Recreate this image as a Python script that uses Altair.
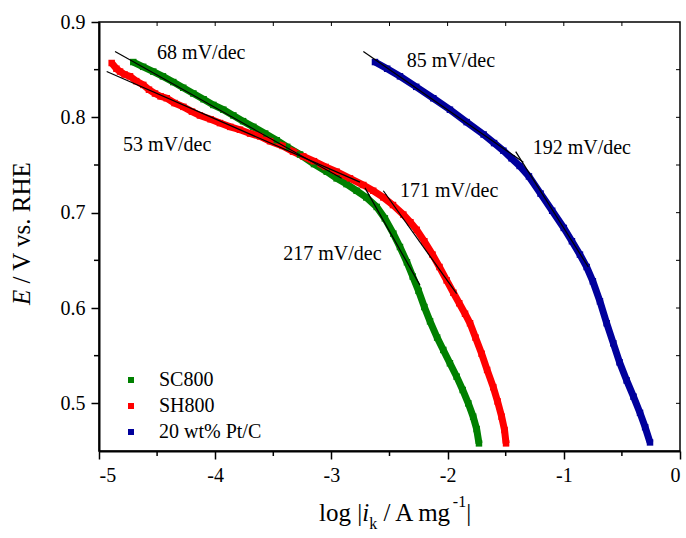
import altair as alt
import pandas as pd

# ---- Tafel data: log|i_k / A mg^-1| versus E / V vs. RHE ----
sc800_logi = [-4.705, -4.62, -4.533, -4.45, -4.361, -4.275, -4.188, -4.10, -4.016, -3.93,
              -3.844, -3.76, -3.672, -3.57, -3.471, -3.38, -3.27, -3.15, -3.04, -2.955,
              -2.87, -2.783, -2.70, -2.61, -2.54, -2.467, -2.41, -2.35, -2.30, -2.25,
              -2.20, -2.151, -2.09, -2.037, -1.98, -1.922, -1.87, -1.822, -1.78, -1.75, -1.73]
sc800_e = [0.858, 0.853, 0.848, 0.843, 0.837, 0.831, 0.825, 0.819, 0.813, 0.808,
           0.802, 0.796, 0.790, 0.783, 0.776, 0.769, 0.761, 0.751, 0.743, 0.736,
           0.730, 0.723, 0.716, 0.706, 0.694, 0.678, 0.664, 0.648, 0.633, 0.618,
           0.601, 0.586, 0.569, 0.556, 0.542, 0.528, 0.514, 0.500, 0.486, 0.473, 0.458]

sh800_logi = [-4.891, -4.85, -4.819, -4.78, -4.733, -4.68, -4.619, -4.57, -4.518, -4.47,
              -4.417, -4.35, -4.274, -4.20, -4.131, -4.04, -3.959, -3.87, -3.787, -3.70,
              -3.614, -3.528, -3.42, -3.33, -3.242, -3.15, -3.05, -2.955, -2.84, -2.725,
              -2.64, -2.553, -2.47, -2.381, -2.32, -2.266, -2.20, -2.13, -2.07, -2.008,
              -1.95, -1.90, -1.85, -1.807, -1.76, -1.707, -1.66, -1.607, -1.57, -1.535,
              -1.51, -1.497]
sh800_e = [0.857, 0.851, 0.848, 0.845, 0.843, 0.838, 0.834, 0.829, 0.825, 0.822,
           0.820, 0.815, 0.811, 0.806, 0.802, 0.798, 0.794, 0.790, 0.787, 0.783,
           0.780, 0.775, 0.770, 0.764, 0.759, 0.754, 0.748, 0.743, 0.736, 0.729,
           0.723, 0.716, 0.708, 0.698, 0.690, 0.682, 0.670, 0.656, 0.643, 0.629,
           0.616, 0.605, 0.594, 0.584, 0.569, 0.552, 0.535, 0.517, 0.502, 0.486,
           0.472, 0.458]

ptc_logi = [-2.625, -2.52, -2.41, -2.27, -2.123, -1.98, -1.836, -1.69, -1.60, -1.52,
            -1.45, -1.38, -1.30, -1.20, -1.10, -1.00, -0.93, -0.861, -0.803, -0.75,
            -0.689, -0.631, -0.574, -0.52, -0.459, -0.40, -0.344, -0.30, -0.258]
ptc_e = [0.858, 0.851, 0.843, 0.832, 0.820, 0.808, 0.795, 0.782, 0.773, 0.765,
         0.757, 0.749, 0.738, 0.720, 0.702, 0.684, 0.670, 0.656, 0.643, 0.628,
         0.607, 0.584, 0.563, 0.543, 0.524, 0.507, 0.490, 0.475, 0.459]

samples = ["SC800", "SH800", "20 wt% Pt/C"]
sample_colors = ["#008000", "#ff0000", "#00009c"]

# ---- Tafel fits (segment end points) and their slope labels ----
fit_labels = ["68 mV/dec", "53 mV/dec", "217 mV/dec", "171 mV/dec", "85 mV/dec", "192 mV/dec"]
fit_x0 = [-4.862, -4.934, -2.711, -2.553, -2.725, -1.414]
fit_e0 = [0.869, 0.848, 0.726, 0.723, 0.869, 0.764]
fit_x1 = [-2.912, -2.754, -2.238, -1.922, -1.348, -0.789]
fit_e1 = [0.736, 0.732, 0.624, 0.615, 0.753, 0.643]
label_x = [-4.50, -4.793, -3.414, -2.410, -2.352, -1.268]
label_e = [0.8675, 0.771, 0.657, 0.723, 0.859, 0.7675]

# ---- Axis ticks ----
x_major = [-5, -4, -3, -2, -1, 0]
x_minor = [-4.5, -3.5, -2.5, -1.5, -0.5]
y_major = [0.5, 0.6, 0.7, 0.8, 0.9]
y_minor = [0.55, 0.65, 0.75, 0.85]
x_top = [-4.5, -4, -3.5, -3, -2.5, -2, -1.5, -1, -0.5]
y_right = [0.5, 0.55, 0.6, 0.65, 0.7, 0.75, 0.8, 0.85]

W, H = 581, 429
PAD_L, PAD_T = 99, 22
FONT = "Liberation Serif"

# Times-compatible advance widths (em) used to lay out the rich-text axis titles
EM = {"l": .278, "o": .5, "g": .5, " ": .25, "|": .2, "i": .278, "k": .5, "/": .278,
      "A": .722, "m": .778, "-": .333, "1": .5, "V": .722, "v": .5, "s": .389,
      ".": .25, "R": .667, "H": .722, "E": .611}


def text_width(s, size):
    return sum(EM[c] for c in s) * size


rows = []
for name, xv, ev in zip(samples, [sc800_logi, sh800_logi, ptc_logi], [sc800_e, sh800_e, ptc_e]):
    for x, e in zip(xv, ev):
        rows.append({"sample": name, "logi": x, "E": e})
curves = pd.DataFrame(rows)

fits = pd.DataFrame({"label": fit_labels, "x0": fit_x0, "e0": fit_e0,
                     "x1": fit_x1, "e1": fit_e1, "lx": label_x, "le": label_e})

xs = alt.Scale(domain=[-5, 0], nice=False, zero=False)
ys = alt.Scale(domain=[0.45, 0.9], nice=False, zero=False)
cs = alt.Scale(domain=samples, range=sample_colors)

x_axis = alt.Axis(values=x_major, tickSize=8, tickWidth=1.5, domainWidth=2,
                  labelExpr="'' + datum.value", labelPadding=6, title=None)
y_axis = alt.Axis(values=y_major, tickSize=8, tickWidth=1.5, domainWidth=2,
                  labelExpr="format(datum.value, '.1f')", labelPadding=6, title=None)
legend = alt.Legend(orient="none", legendX=22, legendY=348, title=None,
                    symbolType="square", symbolSize=36, symbolStrokeWidth=0,
                    labelFont=FONT, labelFontSize=20, labelColor="black",
                    labelOffset=18, rowPadding=6, padding=0)


def X(f):
    return alt.X(f, scale=xs, axis=x_axis)


def Y(f):
    return alt.Y(f, scale=ys, axis=y_axis)


band = alt.Chart(curves).mark_line(strokeWidth=7).encode(
    x=X("logi:Q"), y=Y("E:Q"),
    color=alt.Color("sample:N", scale=cs, legend=legend),
    order="logi:Q",
)

points = alt.Chart(curves).mark_point(shape="square", filled=True, size=42, opacity=1).encode(
    x=X("logi:Q"), y=Y("E:Q"),
    color=alt.Color("sample:N", scale=cs, legend=legend),
)

fit_lines = alt.Chart(fits).mark_rule(color="black", strokeWidth=1.2).encode(
    x=X("x0:Q"), y=Y("e0:Q"), x2="x1:Q", y2="e1:Q",
)

fit_text = alt.Chart(fits).mark_text(align="left", baseline="middle", font=FONT,
                                     fontSize=20, color="black").encode(
    x=X("lx:Q"), y=Y("le:Q"), text="label:N",
)

# minor ticks (outward) on the bottom and left axes
minor_x = alt.Chart(pd.DataFrame({"t": x_minor})).mark_rule(color="black", strokeWidth=1.5).encode(
    x=X("t:Q"), y=alt.value(H), y2=alt.value(H + 5))
minor_y = alt.Chart(pd.DataFrame({"t": y_minor})).mark_rule(color="black", strokeWidth=1.5).encode(
    y=Y("t:Q"), x=alt.value(0), x2=alt.value(-5))
# inward ticks on the top and right frame
top_ticks = alt.Chart(pd.DataFrame({"t": x_top})).mark_rule(color="black", strokeWidth=1).encode(
    x=X("t:Q"), y=alt.value(0), y2=alt.value(4))
right_ticks = alt.Chart(pd.DataFrame({"t": y_right})).mark_rule(color="black", strokeWidth=1).encode(
    y=Y("t:Q"), x=alt.value(W), x2=alt.value(W - 4))


def title_piece(s, px, py, size, style="normal", angle=0):
    return alt.Chart(pd.DataFrame({"t": [s]})).mark_text(
        align="left", baseline="alphabetic", font=FONT, fontSize=size,
        fontStyle=style, angle=angle, color="black",
    ).encode(x=alt.value(px), y=alt.value(py), text="t:N")


# x-axis title: log |i_k / A mg^-1|
xt_left, xt_base = 319 - PAD_L, 521 - PAD_T
xt_parts = [("log |", 25, "normal", 0, 0.0), ("i", 25, "italic", 0, 0.0),
            ("k", 16, "normal", 8, 0.0), ("/ A mg", 25, "normal", 0, 0.25),
            ("-1", 16, "normal", -14, 0.0), ("|", 25, "normal", 0, 0.0)]
x_title = []
cursor = xt_left
for s, size, style, dy, lead in xt_parts:
    cursor += lead * 25
    x_title.append(title_piece(s, cursor, xt_base + dy, size, style))
    cursor += text_width(s, size)

# y-axis title: E / V vs. RHE (rotated, reading upward)
yt_base, yt_bottom = 30 - PAD_L, 305 - PAD_T
y_title = [title_piece("E", yt_base, yt_bottom, 25, "italic", 270),
           title_piece("/ V vs. RHE", yt_base, yt_bottom - text_width("E ", 25), 25, "normal", 270)]

chart = alt.layer(band, points, fit_lines, fit_text, minor_x, minor_y, top_ticks, right_ticks,
                  *x_title, *y_title).properties(
    width=W, height=H, autosize="none",
    padding={"left": PAD_L, "top": PAD_T, "right": 6, "bottom": 87},
    background="white",
).configure_view(
    stroke="black", strokeWidth=1.5
).configure_axis(
    labelFont=FONT, labelFontSize=20, labelColor="black",
    tickColor="black", domainColor="black", grid=False,
).configure_legend(
    labelFont=FONT, labelFontSize=20, labelColor="black",
)

chart.save("out.html", embed_options={"renderer": "svg", "actions": False})
